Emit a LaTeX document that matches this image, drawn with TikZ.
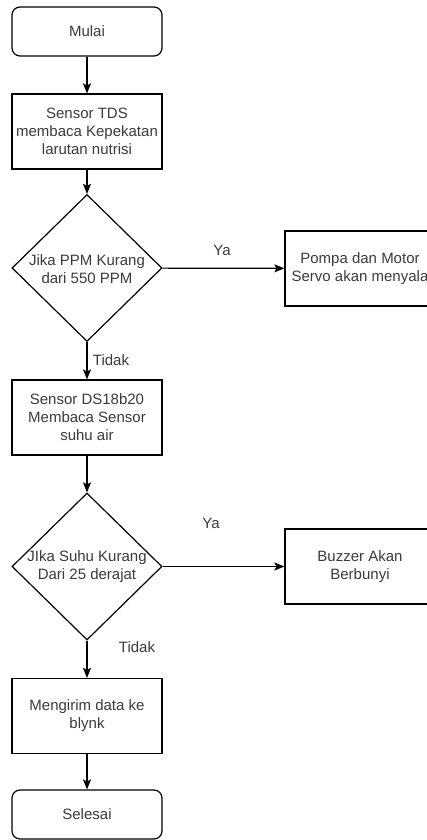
\documentclass[tikz,border=0pt]{standalone}
\usepackage{fontspec}
\setmainfont{Liberation Sans}
\usetikzlibrary{shapes.geometric,arrows.meta}
\definecolor{txt}{HTML}{3A3A3A}
\tikzset{
  base/.style={draw=black, line width=1.2pt, text=txt, font=\fontsize{15}{18}\selectfont, align=center, inner sep=0pt},
  term/.style={base, rounded corners=8pt, minimum width=150pt, minimum height=49pt},
  proc/.style={base, minimum width=150pt, minimum height=75pt},
  dec/.style={base, diamond, minimum width=150pt, minimum height=147pt},
  inner/.style={text=txt, font=\fontsize{15}{18}\selectfont, align=center, inner sep=0pt},
  lbl/.style={text=txt, font=\fontsize{15}{18}\selectfont, inner sep=0pt},
  arr/.style={draw=black, line width=1.2pt, -{Stealth[length=10pt,width=8pt,inset=2pt]}}
}
\begin{document}
\begin{tikzpicture}[x=1pt,y=-1pt]
\useasboundingbox (0,0) rectangle (426,840);
\node[term] (start) at (87,31.5) {Mulai};
\node[proc] (tds) at (87,131.5) {Sensor TDS\\membaca Kepekatan\\larutan nutrisi};
\node[dec] (d1) at (87,268) {};
\node[inner] (d1t) at (87,269) {Jika PPM Kurang\\dari 550 PPM};
\node[proc] (pompa) at (360,268.5) {Pompa dan Motor\\Servo akan menyala};
\node[proc] (ds) at (87,417.5) {Sensor DS18b20\\Membaca Sensor\\suhu air};
\node[dec] (d2) at (87,566.5) {};
\node[inner] (d2t) at (87,567) {JIka Suhu Kurang\\Dari 25 derajat};
\node[proc] (buzz) at (360,566.5) {Buzzer Akan\\Berbunyi};
\node[proc] (kirim) at (87,716) {Mengirim data ke\\blynk};
\node[term] (end) at (87,814.5) {Selesai};

\draw[arr] (start) -- (tds);
\draw[arr] (tds) -- (d1);
\draw[arr] (d1) -- (pompa);
\draw[arr] (d1) -- (ds);
\draw[arr] (ds) -- (d2);
\draw[arr] (d2) -- (buzz);
\draw[arr] (d2) -- (kirim);
\draw[arr] (kirim) -- (end);

\node[lbl] (ya1) at (222,250) {Ya};
\node[lbl] (tidak1) at (111,360) {Tidak};
\node[lbl] (ya2) at (211,523) {Ya};
\node[lbl] (tidak2) at (137,647) {Tidak};
\end{tikzpicture}
\end{document}
